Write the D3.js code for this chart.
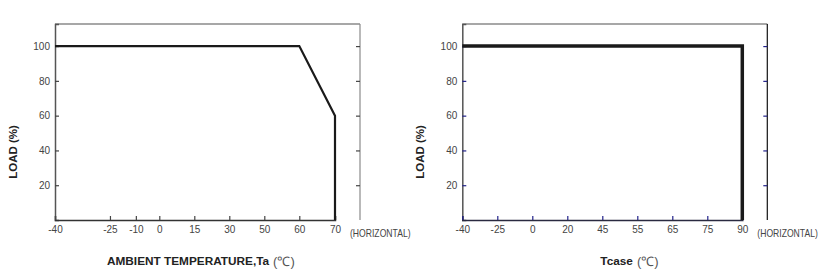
<!DOCTYPE html>
<html>
<head>
<meta charset="utf-8">
<script src="https://cdn.jsdelivr.net/npm/d3@7"></script>
<style>
  body { margin: 0; background: #fff; }
  text { font-family: "Liberation Sans", Arial, sans-serif; }
</style>
</head>
<body>
<div id="grafico"></div>
<script>
// datos
const ticksY = [20, 40, 60, 80, 100];
const ticksAmbiente = [-40, -25, -10, 0, 15, 30, 50, 60, 70];
const posAmbiente = [0, 1.57, 2.31, 2.98, 3.98, 4.98, 5.98, 6.98, 8];
const curvaAmbiente = [[-40, 100], [60, 100], [70, 60], [70, 0]];
const ticksCase = [-40, -25, 0, 20, 45, 55, 65, 75, 90];
const posCase = [0, 1, 2, 3, 4, 5, 6, 7, 8];
const curvaCase = [[-40, 100], [90, 100], [90, 0]];

const ancho = 305, alto = 196;
const paso = 35;
const maxY = 112.7;

const $svg = d3.select("#grafico")
    .append("svg")
    .attr("width", 828)
    .attr("height", 274);

const dibujar = (cfg) => {
    const g = $svg.append("g").attr("transform", `translate(${cfg.x},24)`);

    const x = d3.scaleLinear()
        .domain(cfg.ticks)
        .range(cfg.pos.map(p => p * paso));
    const y = d3.scaleLinear().domain([0, maxY]).range([alto, 0]);

    // marco
    g.append("line").attr("x1", 0).attr("x2", ancho).attr("y1", 0).attr("y2", 0)
        .attr("stroke", "#8a8a8a").attr("stroke-width", 1.5);
    g.append("line").attr("x1", ancho).attr("x2", ancho).attr("y1", 0).attr("y2", alto)
        .attr("stroke", cfg.colorDerecho).attr("stroke-width", 1.2);

    // ejes
    const ejeIzq = g.append("g")
        .call(d3.axisLeft(y).tickValues(ticksY).tickSize(-4).tickPadding(5));
    const ejeDer = g.append("g").attr("transform", `translate(${ancho},0)`)
        .call(d3.axisRight(y).tickValues(ticksY).tickSize(-4).tickFormat(""));
    const ejeX = g.append("g").attr("transform", `translate(0,${alto})`)
        .call(d3.axisBottom(x).tickValues(cfg.ticks).tickSize(-4).tickPadding(6)
            .tickFormat(d => String(d)));

    [ejeIzq, ejeDer, ejeX].forEach(e => {
        e.selectAll(".tick line").attr("stroke", cfg.colorTick).attr("stroke-width", 1.2);
        e.selectAll("text").attr("fill", "#444").attr("font-size", 10);
    });
    ejeIzq.select(".domain").attr("stroke", "#555").attr("stroke-width", 1.5);
    ejeDer.select(".domain").remove();
    ejeX.select(".domain").attr("stroke", cfg.colorX).attr("stroke-width", 1.5);

    // texto angosto, escalado solo en horizontal
    g.append("text")
        .attr("transform", `translate(${ancho - 10},${alto + 10}) scale(0.82,1)`)
        .attr("dy", "0.71em")
        .attr("font-size", 10.5).attr("fill", "#444")
        .text("(HORIZONTAL)");

    // curva
    g.append("path")
        .datum(cfg.curva)
        .attr("d", d3.line().x(d => x(d[0])).y(d => y(d[1])))
        .attr("fill", "none")
        .attr("stroke", "#1a1a1a")
        .attr("stroke-width", cfg.grosor)
        .attr("stroke-linejoin", "miter");

    // etiquetas
    g.append("text")
        .attr("transform", `translate(-38,${alto / 2 + 30}) rotate(-90)`)
        .attr("text-anchor", "middle")
        .attr("font-size", 11.5).attr("font-weight", "bold").attr("fill", "#222")
        .text("LOAD (%)");

    const titulo = g.append("text")
        .attr("x", cfg.tituloX).attr("y", 241)
        .attr("font-size", 11.8).attr("font-weight", "bold").attr("fill", "#222")
        .text(cfg.titulo);
    const largo = titulo.node().getComputedTextLength();
    g.append("text")
        .attr("x", cfg.tituloX + largo + 4).attr("y", 241.5)
        .attr("font-size", 13).attr("fill", "#555")
        .text("(℃)");
};

dibujar({
    x: 55, ticks: ticksAmbiente, pos: posAmbiente, curva: curvaAmbiente,
    grosor: 2.2, colorTick: "#444", colorX: "#333", colorDerecho: "#8a8a8a",
    titulo: "AMBIENT TEMPERATURE,Ta", tituloX: 52
});
dibujar({
    x: 462.3, ticks: ticksCase, pos: posCase, curva: curvaCase,
    grosor: 3.5, colorTick: "#22228a", colorX: "#2a2a40", colorDerecho: "#111",
    titulo: "Tcase", tituloX: 138
});
</script>
</body>
</html>
